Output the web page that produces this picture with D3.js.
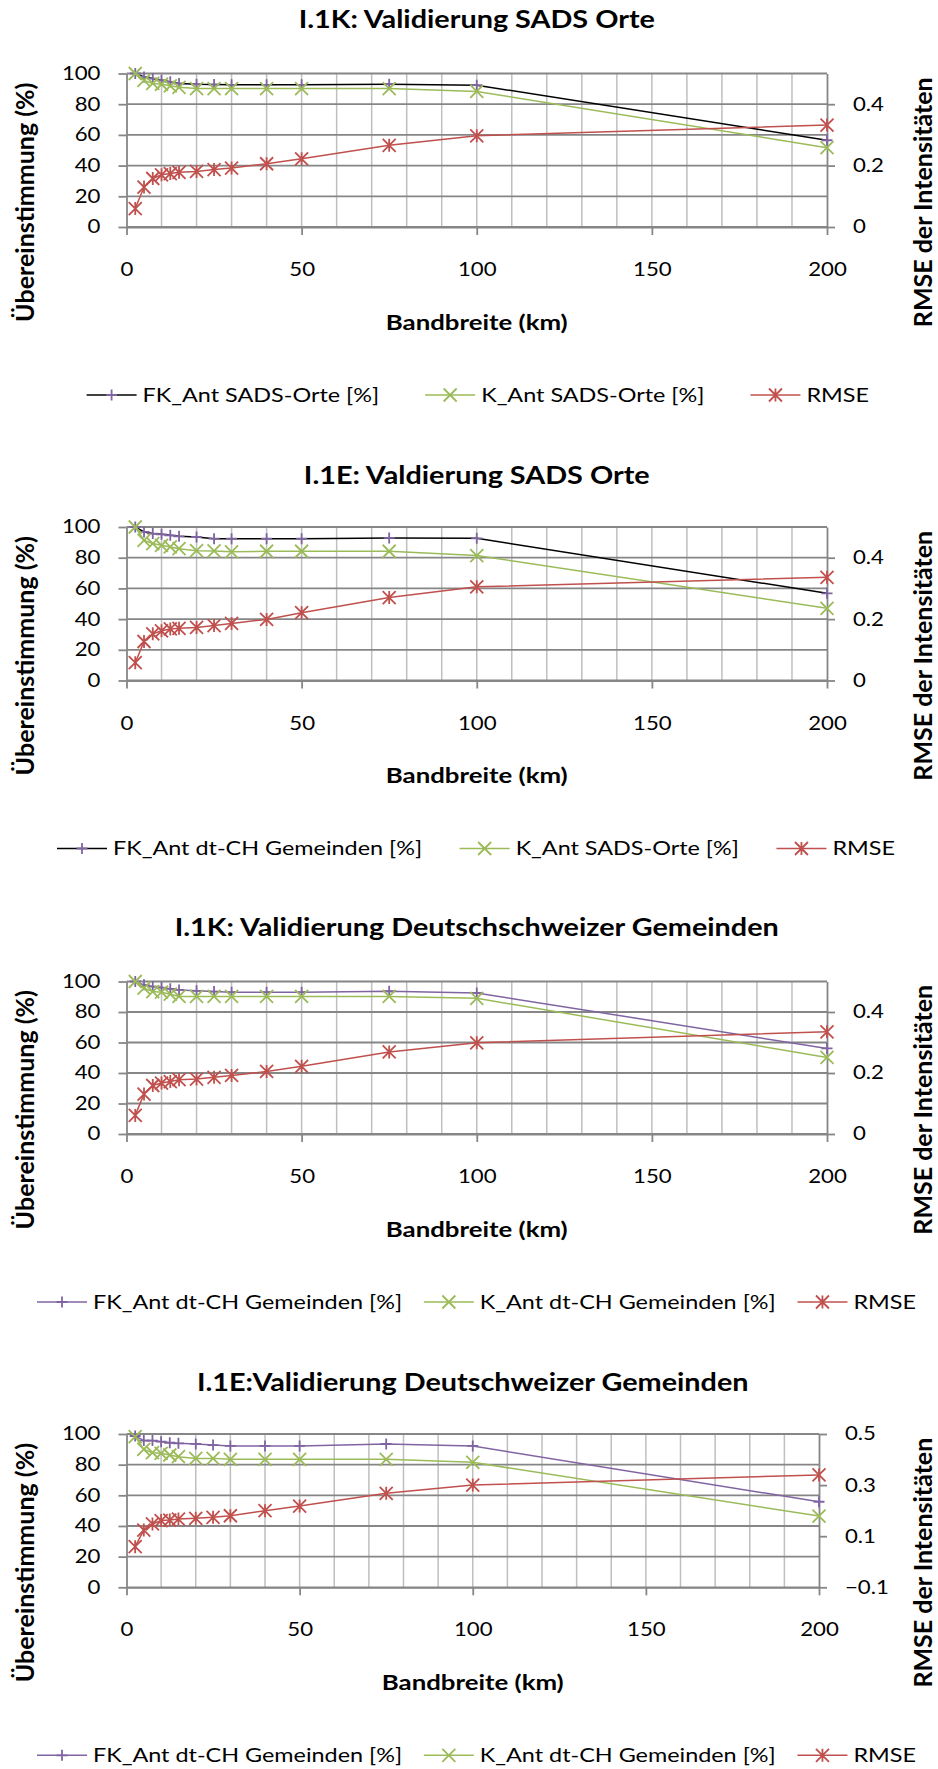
<!DOCTYPE html>
<head>
<meta charset="utf-8">
<title>Validierung Bandbreite</title>
<style>
   body {
		   margin: 0;
		   background: #ffffff;
   }
   svg text {
		   font-family: Lato, Carlito, Calibri, "Open Sans", sans-serif;
		   fill: #000000;
   }
</style>
</head>
<body>
<div id="chartDiv"></div>
<script src="https://d3js.org/d3.v7.min.js"></script>
<script>

   //	Data

   var bandwidth = [2.5, 5, 7.5, 10, 12.5, 15, 20, 25, 30, 40, 50, 75, 100, 200];
   var xTicks = [0, 50, 100, 150, 200];
   var pctTicks = [0, 20, 40, 60, 80, 100];
   var rmseTicksA = [0, 0.2, 0.4];
   var rmseTicksB = [-0.1, 0.1, 0.3, 0.5];

   // I.1K SADS Orte
   var fk1K = [100, 97.8, 96.7, 95.6, 94.6, 93.5, 93.0, 92.8, 92.6, 92.6, 92.6, 93.0, 92.4, 56.5];
   var k1K = [100, 95.5, 93.5, 93.0, 92.0, 91.0, 90.2, 90.2, 90.2, 90.2, 90.2, 90.2, 88.3, 51.7];
   var rmse1K = [0.060, 0.130, 0.158, 0.170, 0.174, 0.178, 0.181, 0.187, 0.192, 0.206, 0.222, 0.266, 0.297, 0.332];

   // I.1E SADS Orte
   var fk1E = [100, 96.8, 95.7, 95.2, 94.6, 93.9, 93.5, 92.4, 92.4, 92.4, 92.4, 92.9, 92.6, 56.8];
   var k1E = [100, 91.3, 89.2, 88.1, 87.0, 85.9, 84.6, 84.4, 83.8, 84.2, 84.2, 84.2, 81.4, 47.0];
   var rmse1E = [0.058, 0.127, 0.152, 0.162, 0.168, 0.170, 0.173, 0.179, 0.186, 0.199, 0.221, 0.270, 0.305, 0.336];

   // I.1K Deutschschweizer Gemeinden
   var fk1KG = [100, 97.8, 96.7, 96.0, 95.2, 94.5, 93.9, 93.4, 93.0, 93.0, 93.0, 93.6, 92.5, 56.1];
   var k1KG = [100, 95.6, 93.4, 93.0, 91.7, 90.2, 90.2, 90.2, 90.2, 90.2, 90.2, 90.2, 89.0, 50.2];
   var rmse1KG = [0.061, 0.131, 0.159, 0.167, 0.172, 0.178, 0.180, 0.186, 0.192, 0.205, 0.222, 0.269, 0.299, 0.335];

   // I.1E Deutschweizer Gemeinden
   var fk1EG = [98.7, 95.7, 95.7, 95.0, 94.3, 93.9, 93.5, 92.8, 92.2, 92.2, 92.2, 93.5, 92.2, 55.8];
   var k1EG = [98.3, 90.0, 87.8, 87.4, 86.3, 85.2, 84.1, 84.1, 83.5, 83.5, 83.5, 83.5, 81.5, 46.5];
   var rmse1EG = [0.059, 0.124, 0.148, 0.161, 0.163, 0.167, 0.170, 0.174, 0.180, 0.200, 0.218, 0.268, 0.300, 0.340];

   //	Colours and layout

   var purple = "#8064A2", green = "#9BBB59", red = "#C0504D";
   var axisGrey = "#868686", minorGrey = "#BFBFBF";
   var SX = 1.2;   // reference text is stretched horizontally

   var charts = [
	   { title: "I.1K: Validierung SADS Orte", fk: fk1K, k: k1K, rmse: rmse1K,
		 names: ["FK_Ant SADS-Orte [%]", "K_Ant SADS-Orte [%]", "RMSE"], fkLine: "#000000",
		 rDomain: [0, 0.5], rTicks: rmseTicksA,
		 top: 73.5, bottom: 227, left: 126.5, right: 827, titleY: 20, legend: [86.6, 869] },
	   { title: "I.1E: Valdierung SADS Orte", fk: fk1E, k: k1E, rmse: rmse1E,
		 names: ["FK_Ant dt-CH Gemeinden [%]", "K_Ant SADS-Orte [%]", "RMSE"], fkLine: "#000000",
		 rDomain: [0, 0.5], rTicks: rmseTicksA,
		 top: 527, bottom: 680.5, left: 126.5, right: 827, titleY: 476, legend: [57, 895] },
	   { title: "I.1K: Validierung Deutschschweizer Gemeinden", fk: fk1KG, k: k1KG, rmse: rmse1KG,
		 names: ["FK_Ant dt-CH Gemeinden [%]", "K_Ant dt-CH Gemeinden [%]", "RMSE"], fkLine: purple,
		 rDomain: [0, 0.5], rTicks: rmseTicksA,
		 top: 981.5, bottom: 1134, left: 126.5, right: 827, titleY: 928, legend: [37, 916] },
	   { title: "I.1E:Validierung Deutschweizer Gemeinden", fk: fk1EG, k: k1EG, rmse: rmse1EG,
		 names: ["FK_Ant dt-CH Gemeinden [%]", "K_Ant dt-CH Gemeinden [%]", "RMSE"], fkLine: purple,
		 rDomain: [-0.1, 0.5], rTicks: rmseTicksB,
		 top: 1434, bottom: 1587.3, left: 126.5, right: 819, titleY: 1383, legend: [37, 916] }
   ];

   //	Marker shapes (Excel style)

   var symPlus = { draw: function(ctx, r) {
	   ctx.moveTo(-r, 0); ctx.lineTo(r, 0); ctx.moveTo(0, -r); ctx.lineTo(0, r);
   } };
   var symTimes = { draw: function(ctx, r) {
	   ctx.moveTo(-r, -r); ctx.lineTo(r, r); ctx.moveTo(-r, r); ctx.lineTo(r, -r);
   } };
   var symStar = { draw: function(ctx, r) {
	   ctx.moveTo(-r, -r); ctx.lineTo(r, r); ctx.moveTo(-r, r); ctx.lineTo(r, -r);
	   ctx.moveTo(0, -r); ctx.lineTo(0, r);
   } };

   var svg = d3.select("#chartDiv")
	 .append("svg")
	   .attr("width", 938)
	   .attr("height", 1769);

   charts.forEach(drawChart);

   function addText(g, x, y, str, size, anchor, bold) {
	   return g.append("text")
		   .attr("transform", "translate(" + x + "," + y + ") scale(" + SX + ",1)")
		   .attr("dy", "0.35em")
		   .attr("text-anchor", anchor)
		   .style("font-size", size + "px")
		   .style("font-weight", bold ? "bold" : "normal")
		   .text(str);
   }

   function stretchAxisText(axisG) {
	   axisG.selectAll("text").each(function() {
		   var t = d3.select(this);
		   var tx = +t.attr("x") || 0;
		   t.attr("x", 0).attr("transform", "translate(" + tx + ",0) scale(" + SX + ",1)");
	   });
   }

   function drawChart(c) {
	   var x = d3.scaleLinear().domain([0, 200]).range([c.left, c.right]);
	   var y = d3.scaleLinear().domain([0, 100]).range([c.bottom, c.top]);
	   var yR = d3.scaleLinear().domain(c.rDomain).range([c.bottom, c.top]);
	   var g = svg.append("g");

	   // minor vertical gridlines every 10 km
	   g.selectAll(".vgrid")
		   .data(d3.range(10, 200, 10))
		   .enter().append("line")
		   .attr("x1", function(d) { return x(d); })
		   .attr("x2", function(d) { return x(d); })
		   .attr("y1", c.top)
		   .attr("y2", c.bottom)
		   .attr("stroke", minorGrey)
		   .attr("stroke-width", 1.5);

	   // major horizontal gridlines
	   g.selectAll(".hgrid")
		   .data(pctTicks)
		   .enter().append("line")
		   .attr("x1", c.left)
		   .attr("x2", c.right)
		   .attr("y1", function(d) { return y(d); })
		   .attr("y2", function(d) { return y(d); })
		   .attr("stroke", axisGrey)
		   .attr("stroke-width", 1.8);

	   // axes
	   var axL = g.append("g")
		   .attr("transform", "translate(" + c.left + ",0)")
		   .call(d3.axisLeft(y).tickValues(pctTicks).tickSize(8).tickSizeOuter(0).tickPadding(18));
	   var axR = g.append("g")
		   .attr("transform", "translate(" + c.right + ",0)")
		   .call(d3.axisRight(yR).tickValues(c.rTicks).tickSize(8).tickSizeOuter(0).tickPadding(18)
			   .tickFormat(function(d) { return d3.format("")(+d.toFixed(1)); }));
	   var axB = g.append("g")
		   .attr("transform", "translate(0," + c.bottom + ")")
		   .call(d3.axisBottom(x).tickValues(xTicks).tickSize(8).tickSizeOuter(0).tickPadding(28));

	   [axL, axR, axB].forEach(function(a) {
		   a.attr("font-family", null).attr("font-size", null);
		   a.selectAll("path, line").attr("stroke", axisGrey).attr("stroke-width", 1.8);
		   a.selectAll("text").style("font-size", "18.5px");
		   stretchAxisText(a);
	   });

	   // series
	   var series = [
		   { values: c.fk, line: c.fkLine, marker: purple, sym: symPlus, r: 5.5, scale: y },
		   { values: c.k, line: green, marker: green, sym: symTimes, r: 6.5, scale: y },
		   { values: c.rmse, line: red, marker: red, sym: symStar, r: 6.5, scale: yR }
	   ];

	   series.forEach(function(s) {
		   var pts = bandwidth.map(function(b, i) { return [x(b), s.scale(s.values[i])]; });
		   g.append("path")
			   .attr("d", d3.line()(pts))
			   .attr("fill", "none")
			   .attr("stroke", s.line)
			   .attr("stroke-width", 1.5);
		   g.selectAll(null)
			   .data(pts)
			   .enter().append("path")
			   .attr("transform", function(d) { return "translate(" + d[0] + "," + d[1] + ")"; })
			   .attr("d", d3.symbol().type(s.sym).size(s.r))
			   .attr("fill", "none")
			   .attr("stroke", s.marker)
			   .attr("stroke-width", 1.8);
	   });

	   // titles
	   var cx = (c.left + c.right) / 2;
	   addText(g, cx, c.titleY, c.title, 24, "middle", true);
	   addText(g, cx, c.bottom + 95, "Bandbreite (km)", 21.5, "middle", true);

	   var cy = (c.top + c.bottom) / 2 + 52;
	   g.append("text")
		   .attr("transform", "translate(25," + cy + ") rotate(-90)")
		   .attr("dy", "0.35em")
		   .attr("text-anchor", "middle")
		   .style("font-size", "25px")
		   .style("font-weight", "bold")
		   .text("Übereinstimmung (%)");
	   g.append("text")
		   .attr("transform", "translate(923," + cy + ") rotate(-90)")
		   .attr("dy", "0.35em")
		   .attr("text-anchor", "middle")
		   .style("font-size", "25px")
		   .style("font-weight", "bold")
		   .text("RMSE der Intensitäten");

	   // legend, items spread between the measured ends
	   var ly = c.bottom + 168;
	   var items = series.map(function(s, i) {
		   var ig = g.append("g");
		   ig.append("line")
			   .attr("x1", 0).attr("x2", 50)
			   .attr("stroke", s.line)
			   .attr("stroke-width", 1.5);
		   ig.append("path")
			   .attr("transform", "translate(25,0)")
			   .attr("d", d3.symbol().type(s.sym).size(s.r))
			   .attr("fill", "none")
			   .attr("stroke", s.marker)
			   .attr("stroke-width", 1.8);
		   var t = addText(ig, 56, 0, c.names[i], 19.5, "start", false);
		   return { g: ig, w: 56 + t.node().getComputedTextLength() * SX };
	   });
	   var total = d3.sum(items, function(d) { return d.w; });
	   var gap = (c.legend[1] - c.legend[0] - total) / (items.length - 1);
	   var pos = c.legend[0];
	   items.forEach(function(it) {
		   it.g.attr("transform", "translate(" + pos + "," + ly + ")");
		   pos += it.w + gap;
	   });
   }
</script>
</body>
